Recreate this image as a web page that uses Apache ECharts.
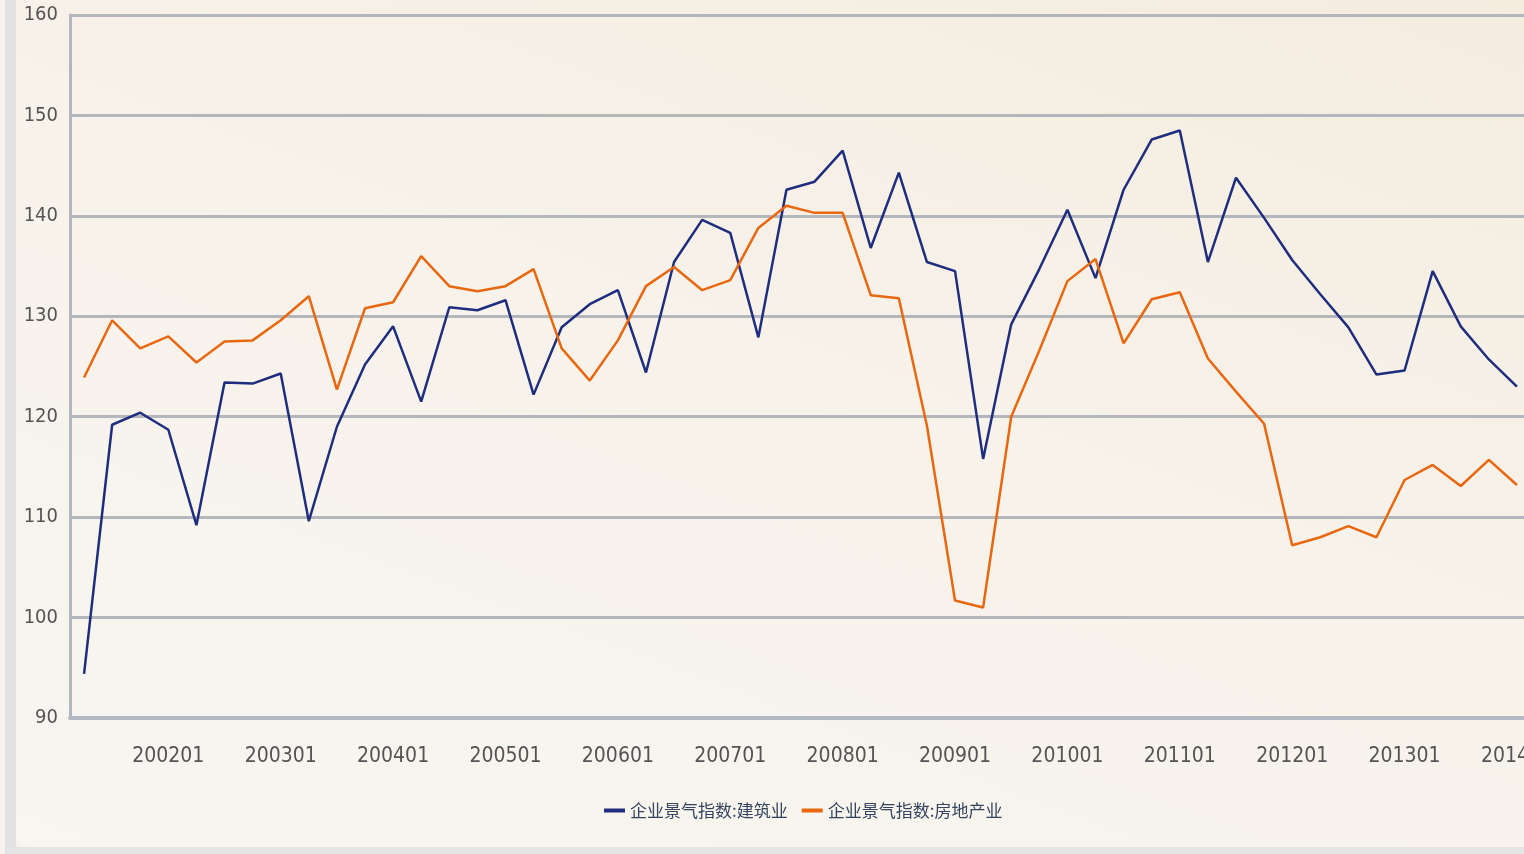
<!DOCTYPE html>
<html>
<head>
<meta charset="utf-8">
<script src="https://cdn.jsdelivr.net/npm/echarts@6/dist/echarts.min.js"></script>
<style>
  html, body { margin: 0; padding: 0; width: 1524px; height: 854px; overflow: hidden; background: #f7f3ec; }
  .bar-left { position: absolute; left: 5px; top: 0; width: 11px; height: 854px; background: #e2e2e2; }
  .bar-bottom { position: absolute; left: 5px; top: 847px; width: 1519px; height: 7px; background: #e4e4e4; }
  .panel {
    position: absolute; left: 16px; top: 0; width: 1508px; height: 847px;
    border-bottom-left-radius: 12px;
    background: linear-gradient(20deg, #f8f6f1 0%, #f7f2ea 55%, #f4ecdf 100%);
  }
  #chart { position: absolute; left: 0; top: 0; width: 1524px; height: 854px; }
</style>
</head>
<body>
<div class="bar-left"></div>
<div class="bar-bottom"></div>
<div class="panel"></div>
<div id="chart"></div>
<script>
// 季度
const quarters = [
  '200104', '200107', '200110',
  '200201', '200204', '200207', '200210',
  '200301', '200304', '200307', '200310',
  '200401', '200404', '200407', '200410',
  '200501', '200504', '200507', '200510',
  '200601', '200604', '200607', '200610',
  '200701', '200704', '200707', '200710',
  '200801', '200804', '200807', '200810',
  '200901', '200904', '200907', '200910',
  '201001', '201004', '201007', '201010',
  '201101', '201104', '201107', '201110',
  '201201', '201204', '201207', '201210',
  '201301', '201304', '201307', '201310',
  '201401'
];

// 企业景气指数:建筑业
const construction = [
  94.4, 119.2, 120.4,
  118.7, 109.2, 123.4, 123.3,
  124.3, 109.6, 119.0, 125.2,
  129.0, 121.5, 130.9, 130.6,
  131.6, 122.2, 128.9, 131.2,
  132.6, 124.4, 135.4, 139.6,
  138.3, 127.9, 142.6, 143.4,
  146.5, 136.8, 144.3, 135.4,
  134.5, 115.8, 129.2, 134.7,
  140.6, 133.8, 142.6, 147.6,
  148.5, 135.4, 143.8, 139.8,
  135.6, 132.2, 128.9, 124.2,
  124.6, 134.5, 129.0, 125.7,
  123.0
];

// 企业景气指数:房地产业
const realEstate = [
  123.9, 129.6, 126.8,
  128.0, 125.4, 127.5, 127.6,
  129.6, 132.0, 122.7, 130.8,
  131.4, 136.0, 133.0, 132.5,
  133.0, 134.7, 126.8, 123.6,
  127.6, 133.0, 134.9, 132.6,
  133.6, 138.8, 141.0, 140.3,
  140.3, 132.1, 131.8, 119.1,
  101.7, 101.0, 120.0, 126.6,
  133.5, 135.7, 127.3, 131.7,
  132.4, 125.8, 122.5, 119.3,
  107.2, 108.0, 109.1, 108.0,
  113.7, 115.2, 113.1, 115.7,
  113.2
];

const seriesNames = ['企业景气指数:建筑业', '企业景气指数:房地产业'];

const font = "'Liberation Sans Narrow', 'Arial Narrow', 'DejaVu Sans Condensed', 'Liberation Sans', sans-serif";
const gridColor = '#b3b6bb';

// 只在每年01季度显示刻度和标签
const showYearStart = (index, value) => value.slice(4) === '01';

const chart = echarts.init(document.getElementById('chart'));

const option = {
  animation: false,
  grid: {
    left: 70,
    right: -7, // 原图右侧被裁掉
    top: 15,
    bottom: 136,
    outerBoundsMode: 'none'
  },
  legend: {
    left: 599,
    top: 797,
    itemWidth: 21,
    itemHeight: 4,
    itemGap: 14,
    icon: 'rect',
    textStyle: {
      fontFamily: "'Noto Sans CJK SC', sans-serif",
      fontSize: 17,
      color: '#34445f'
    },
    data: seriesNames
  },
  xAxis: {
    type: 'category',
    boundaryGap: true,
    data: quarters,
    axisLine: {
      lineStyle: { color: '#b3b9c3', width: 4 }
    },
    axisTick: {
      interval: showYearStart,
      alignWithLabel: true,
      length: 8,
      lineStyle: { color: '#a9b3c1', width: 2 }
    },
    axisLabel: {
      interval: showYearStart,
      margin: 28,
      fontFamily: font,
      fontSize: 21,
      color: '#545454'
    },
    splitLine: { show: false }
  },
  yAxis: {
    type: 'value',
    min: 90,
    max: 160,
    interval: 10,
    axisLine: {
      show: true,
      lineStyle: { color: gridColor, width: 3 }
    },
    axisTick: { show: false },
    axisLabel: {
      margin: 12,
      fontFamily: font,
      fontSize: 20,
      color: '#545454'
    },
    splitLine: {
      lineStyle: { color: gridColor, width: 3 }
    }
  },
  series: [
    {
      name: seriesNames[0],
      type: 'line',
      data: construction,
      symbol: 'none',
      lineStyle: { color: '#1f2d7e', width: 2.5 },
      itemStyle: { color: '#1f2d7e' }
    },
    {
      name: seriesNames[1],
      type: 'line',
      data: realEstate,
      symbol: 'none',
      lineStyle: { color: '#e8670f', width: 2.5 },
      itemStyle: { color: '#e8670f' }
    }
  ]
};

chart.setOption(option);
</script>
</body>
</html>
